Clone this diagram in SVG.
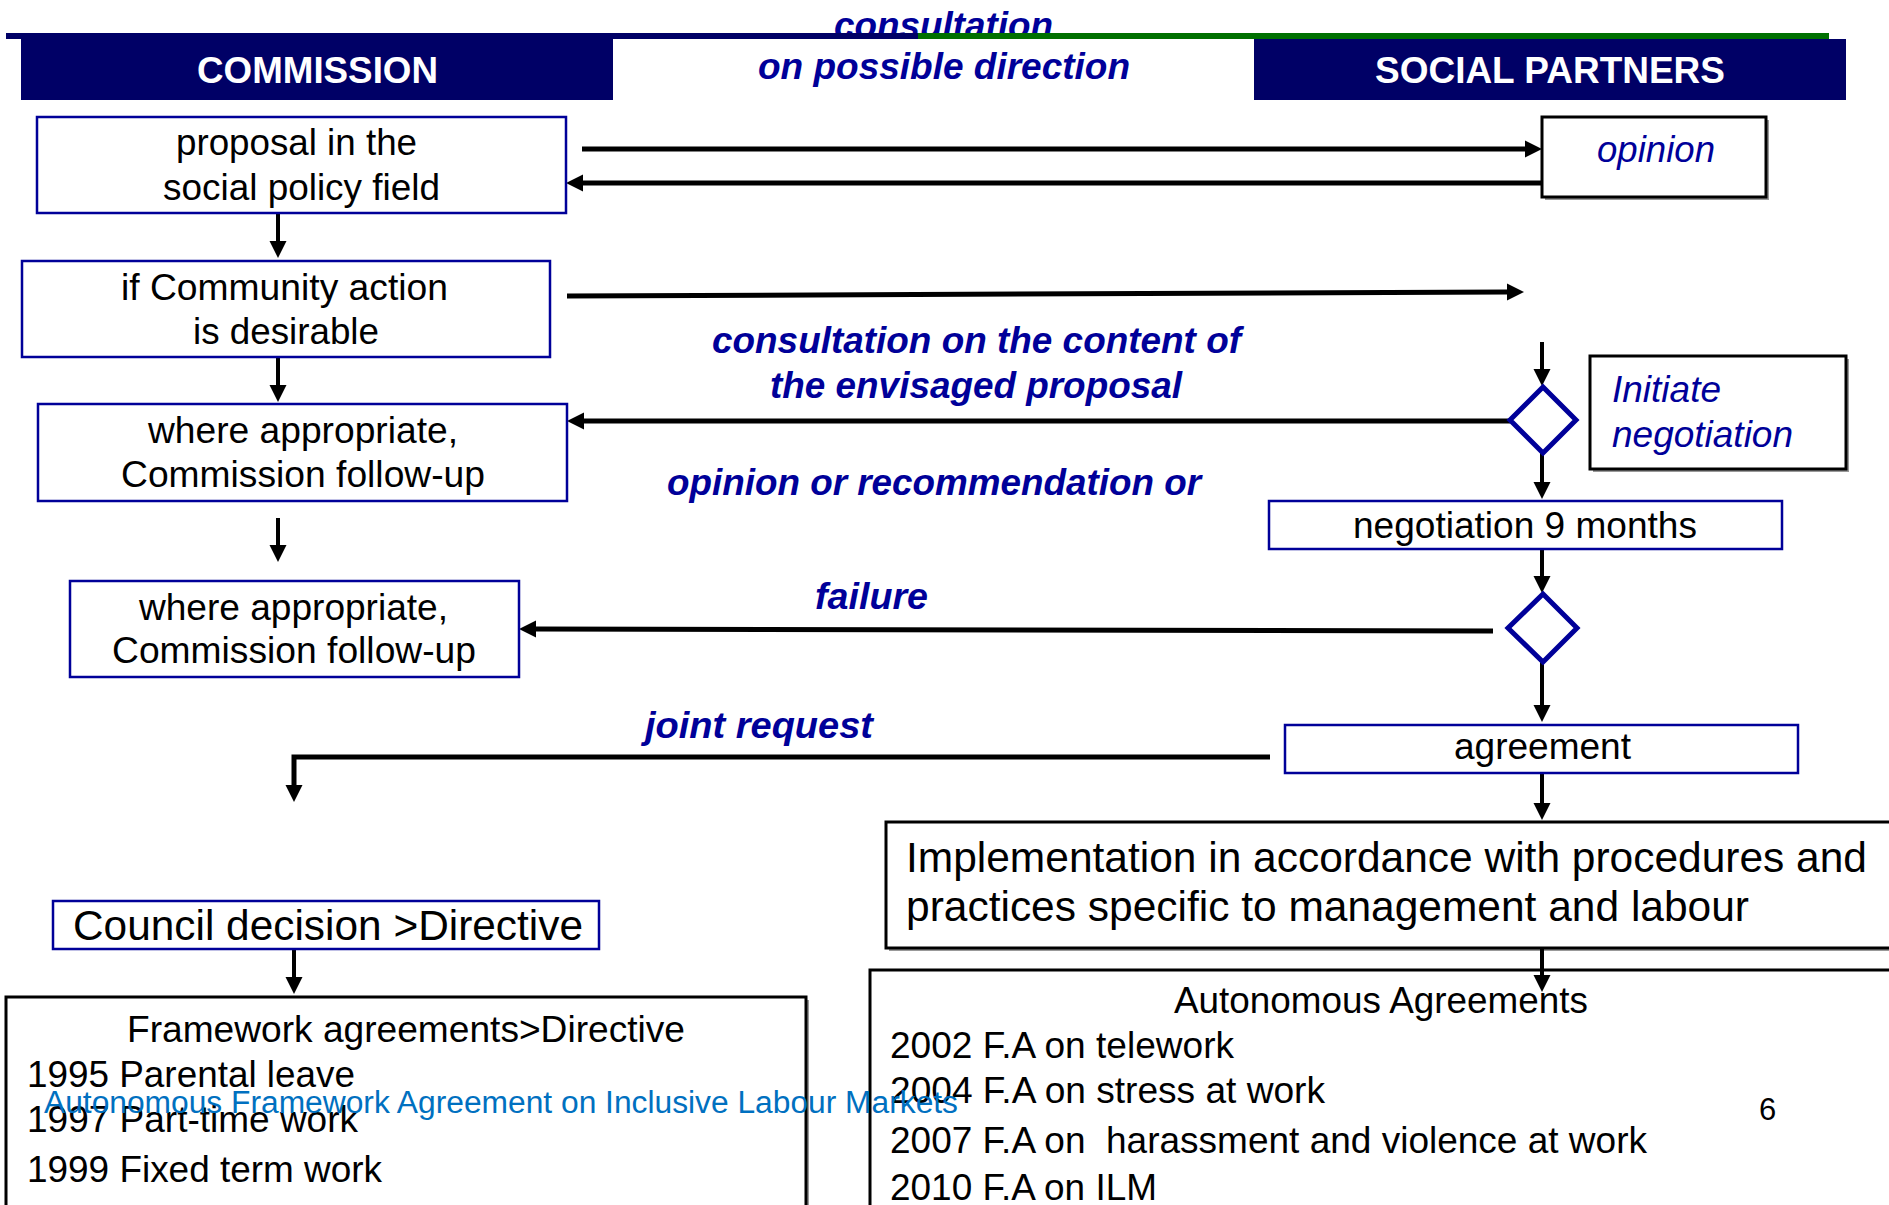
<svg xmlns="http://www.w3.org/2000/svg" width="1889" height="1205" viewBox="0 0 1889 1205">
<defs>
<style>
text{font-family:"Liberation Sans",Arial,sans-serif;font-size:37px;fill:#000}
.hd{font-weight:bold;fill:#fff}
.lb{font-weight:bold;font-style:italic;fill:#000099}
.it{font-style:italic;fill:#000099}
.big{font-size:42px}
.nb{fill:#fff;stroke:#000099;stroke-width:2.5}
.kb{fill:#fff;stroke:#000;stroke-width:3}
.sh{fill:#999}
.dm{fill:#fff;stroke:#000099;stroke-width:5}
.c{fill:none;stroke:#000;stroke-width:5;marker-end:url(#ah)}
.v{fill:none;stroke:#000;stroke-width:4;marker-end:url(#ah)}
.pl{fill:none;stroke:#000;stroke-width:5}
</style>
<marker id="ah" markerUnits="userSpaceOnUse" markerWidth="18" markerHeight="18" refX="0" refY="8.5" orient="auto" viewBox="0 0 18 17">
<path d="M0,0 L17,8.5 L0,17 z" fill="#000"/>
</marker>
</defs>
<rect width="1889" height="1205" fill="#fff"/>

<g id="header">
<text class="lb" x="834" y="38" textLength="219" lengthAdjust="spacingAndGlyphs">consultation</text>
<rect x="6" y="33" width="912" height="6" fill="#000066"/>
<rect x="918" y="33" width="911" height="6" fill="#007000"/>
<text class="lb" x="758" y="79" textLength="372" lengthAdjust="spacingAndGlyphs">on possible direction</text>
</g>
<g id="commission">
<rect x="21" y="39" width="592" height="61" fill="#000066"/>
<text class="hd" x="197" y="83" textLength="241" lengthAdjust="spacingAndGlyphs">COMMISSION</text>
</g>
<g id="social-partners">
<rect x="1254" y="39" width="592" height="61" fill="#000066"/>
<text class="hd" x="1375" y="83" textLength="350" lengthAdjust="spacingAndGlyphs">SOCIAL PARTNERS</text>
</g>

<g id="connectors">
<line class="c" x1="582" y1="149" x2="1525" y2="149"/>
<line class="c" x1="1542" y1="183" x2="583" y2="183"/>
<line class="v" x1="278" y1="213" x2="278" y2="241"/>
<line class="c" x1="567" y1="296" x2="1507" y2="292"/>
<line class="v" x1="278" y1="357" x2="278" y2="385"/>
<line class="v" x1="1542" y1="342" x2="1542" y2="369"/>
<line class="c" x1="1510" y1="421" x2="584" y2="421"/>
<line class="v" x1="1542" y1="453" x2="1542" y2="482"/>
<line class="v" x1="278" y1="518" x2="278" y2="545"/>
<line class="v" x1="1542" y1="549" x2="1542" y2="576"/>
<line class="c" x1="1493" y1="631" x2="536" y2="629"/>
<line class="v" x1="1542" y1="662" x2="1542" y2="705"/>
<polyline class="c" points="1270,757 294,757 294,785"/>
<line class="v" x1="1542" y1="773" x2="1542" y2="803"/>
<line class="v" x1="294" y1="949" x2="294" y2="977"/>
</g>

<g id="labels">
<text class="lb" x="712" y="353" textLength="529" lengthAdjust="spacingAndGlyphs">consultation on the content of</text>
<text class="lb" x="770" y="398" textLength="412" lengthAdjust="spacingAndGlyphs">the envisaged proposal</text>
<text class="lb" x="667" y="495" textLength="534" lengthAdjust="spacingAndGlyphs">opinion or recommendation or</text>
<text class="lb" x="815" y="609" textLength="113" lengthAdjust="spacingAndGlyphs">failure</text>
<text class="lb" x="645" y="738" textLength="228" lengthAdjust="spacingAndGlyphs">joint request</text>
</g>

<g id="proposal">
<rect class="nb" x="37" y="117" width="529" height="96"/>
<text x="176" y="155" textLength="241" lengthAdjust="spacingAndGlyphs">proposal in the</text>
<text x="163" y="200" textLength="277" lengthAdjust="spacingAndGlyphs">social policy field</text>
</g>
<g id="opinion">
<rect class="sh" x="1545" y="120" width="224" height="80"/>
<rect class="kb" x="1542" y="117" width="224" height="80"/>
<text class="it" x="1597" y="162" textLength="118" lengthAdjust="spacingAndGlyphs">opinion</text>
</g>
<g id="community-action">
<rect class="nb" x="22" y="261" width="528" height="96"/>
<text x="121" y="300" textLength="327" lengthAdjust="spacingAndGlyphs">if Community action</text>
<text x="193" y="344" textLength="186" lengthAdjust="spacingAndGlyphs">is desirable</text>
</g>
<g id="follow-up-1">
<rect class="nb" x="38" y="404" width="529" height="97"/>
<text x="148" y="443" textLength="310" lengthAdjust="spacingAndGlyphs">where appropriate,</text>
<text x="121" y="487" textLength="364" lengthAdjust="spacingAndGlyphs">Commission follow-up</text>
</g>
<g id="decision-1">
<polygon class="dm" points="1543,387 1576,420 1543,453 1510,420"/>
</g>
<g id="initiate-negotiation">
<rect class="sh" x="1593" y="359" width="256" height="113"/>
<rect class="kb" x="1590" y="356" width="256" height="113"/>
<text class="it" x="1612" y="402" textLength="109" lengthAdjust="spacingAndGlyphs">Initiate</text>
<text class="it" x="1612" y="447" textLength="181" lengthAdjust="spacingAndGlyphs">negotiation</text>
</g>
<g id="negotiation">
<rect class="nb" x="1269" y="501" width="513" height="48"/>
<text x="1353" y="538" textLength="344" lengthAdjust="spacingAndGlyphs">negotiation 9 months</text>
</g>
<g id="decision-2">
<polygon class="dm" points="1543,594 1577,628 1543,662 1508,628"/>
</g>
<g id="follow-up-2">
<rect class="nb" x="70" y="581" width="449" height="96"/>
<text x="139" y="620" textLength="309" lengthAdjust="spacingAndGlyphs">where appropriate,</text>
<text x="112" y="663" textLength="364" lengthAdjust="spacingAndGlyphs">Commission follow-up</text>
</g>
<g id="agreement">
<rect class="nb" x="1285" y="725" width="513" height="48"/>
<text x="1454" y="759" textLength="177" lengthAdjust="spacingAndGlyphs">agreement</text>
</g>
<g id="implementation">
<rect class="sh" x="889" y="825" width="1010" height="126"/>
<rect class="kb" x="886" y="822" width="1010" height="126"/>
<text class="big" x="906" y="872" textLength="961" lengthAdjust="spacingAndGlyphs">Implementation in accordance with procedures and</text>
<text class="big" x="906" y="921" textLength="843" lengthAdjust="spacingAndGlyphs">practices specific to management and labour</text>
</g>
<g id="council-decision">
<rect class="nb" x="53" y="901" width="546" height="48"/>
<text class="big" x="73" y="940" textLength="510" lengthAdjust="spacingAndGlyphs">Council decision &gt;Directive</text>
</g>
<g id="framework-agreements">
<rect class="sh" x="9" y="1000" width="800" height="230"/>
<rect class="kb" x="6" y="997" width="800" height="230"/>
<text x="127" y="1042" textLength="558" lengthAdjust="spacingAndGlyphs">Framework agreements&gt;Directive</text>
<text x="27" y="1087" textLength="328" lengthAdjust="spacingAndGlyphs">1995 Parental leave</text>
<text x="27" y="1132" textLength="331" lengthAdjust="spacingAndGlyphs">1997 Part-time work</text>
<text x="27" y="1182" textLength="355" lengthAdjust="spacingAndGlyphs">1999 Fixed term work</text>
</g>
<g id="autonomous-agreements">
<rect class="sh" x="873" y="973" width="1030" height="260"/>
<rect class="kb" x="870" y="970" width="1030" height="260"/>
<text x="1174" y="1013" textLength="414" lengthAdjust="spacingAndGlyphs">Autonomous Agreements</text>
<text x="890" y="1058" textLength="344" lengthAdjust="spacingAndGlyphs">2002 F.A on telework</text>
<text x="890" y="1103" textLength="435" lengthAdjust="spacingAndGlyphs">2004 F.A on stress at work</text>
<text x="890" y="1153" textLength="757" lengthAdjust="spacingAndGlyphs" style="white-space:pre">2007 F.A on  harassment and violence at work</text>
<text x="890" y="1200" textLength="267" lengthAdjust="spacingAndGlyphs">2010 F.A on ILM</text>
</g>
<g id="connectors-over">
<line class="v" x1="1542" y1="948" x2="1542" y2="975"/>
</g>
<g id="footer">
<text x="44" y="1113" style="font-size:31px;fill:#0070C0" textLength="914" lengthAdjust="spacingAndGlyphs">Autonomous Framework Agreement on Inclusive Labour Markets</text>
<text x="1759" y="1120" style="font-size:31px">6</text>
</g>
</svg>
